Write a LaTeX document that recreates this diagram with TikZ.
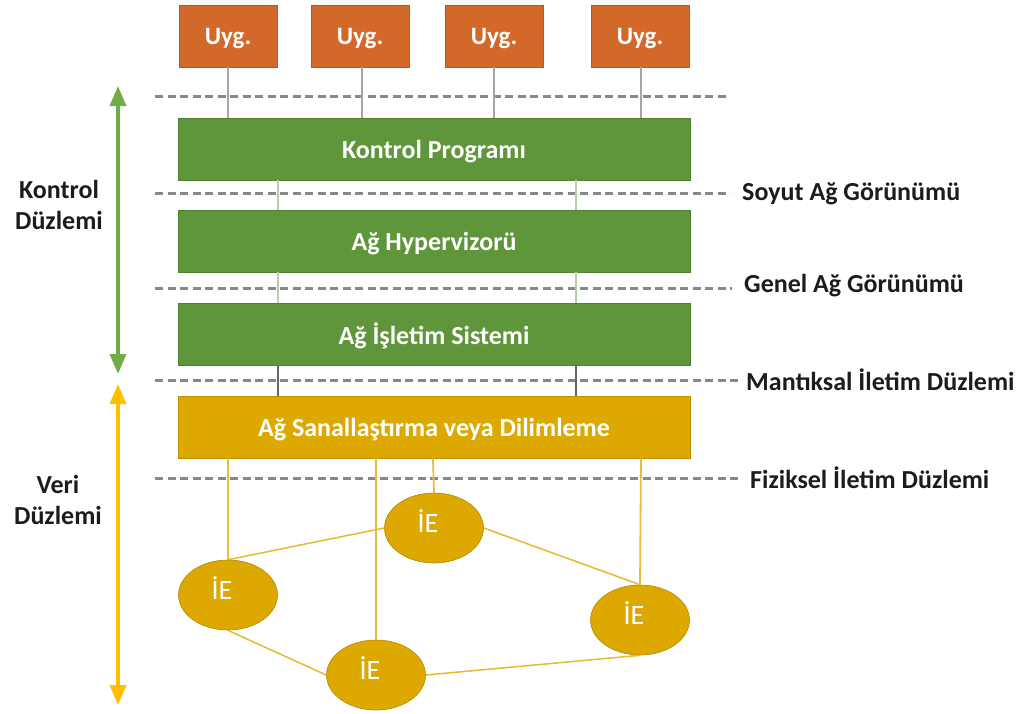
\documentclass[tikz,border=0pt]{standalone}
\usepackage{fontspec}
\setmainfont{Carlito}
\usetikzlibrary{shapes.geometric,arrows.meta}
\definecolor{appor}{HTML}{D2692B}
\definecolor{ctlgreen}{HTML}{5F963B}
\definecolor{datayel}{HTML}{DDA900}
\definecolor{arrgreen}{HTML}{70AD47}
\definecolor{arryel}{HTML}{FFC000}
\definecolor{dashgray}{HTML}{888888}
\definecolor{lblk}{HTML}{1C1C1C}
% element label, set a little up and to the left inside its ellipse
\newcommand{\elabel}[1]{\raisebox{14pt}{#1}\hspace*{12pt}}
\tikzset{
  appbox/.style={draw=appor!85!black, line width=0.6, fill=appor, minimum width=98, minimum height=62,
    text=white, font=\fontsize{25}{28}\selectfont\bfseries, inner sep=0, text depth=0pt},
  layerbox/.style={draw=#1!85!black, line width=0.6, fill=#1, minimum width=512, minimum height=62,
    text=white, font=\fontsize{26}{30}\selectfont\bfseries, inner sep=0, text depth=0pt},
  switchnode/.style={ellipse, draw=datayel!80!black, line width=0.6, fill=datayel, minimum width=99, minimum height=70,
    text=white, font=\fontsize{28}{30}\selectfont, inner sep=0},
  sepline/.style={dashgray, line width=3, dash pattern=on 8 off 4.5},
  sidelbl/.style={text=lblk, font=\fontsize{26}{30}\selectfont\bfseries, anchor=west, inner sep=0},
  planelbl/.style={text=lblk, font=\fontsize{26}{31}\selectfont\bfseries, align=center, inner sep=0},
  applink/.style={gray!70, line width=1.4},
  greenlink/.style={ctlgreen!45, line width=1.8},
  darklink/.style={gray!80!black, line width=2.2},
  yellink/.style={datayel!75, line width=1.8},
  meshlink/.style={datayel!80, line width=1.5},
  planearrow/.style={line width=3.4, {Triangle[width=16,length=20]}-{Triangle[width=16,length=20]}},
}
\begin{document}
\begin{tikzpicture}[x=1pt,y=-1pt]
\useasboundingbox (0,0) rectangle (1022,713);

% separator lines between the layers
\coordinate (d1a) at (155,96);  \coordinate (d1b) at (730,96);
\coordinate (d2a) at (155,193); \coordinate (d2b) at (730,193);
\coordinate (d3a) at (155,288); \coordinate (d3b) at (732,288);
\coordinate (d4a) at (155,380); \coordinate (d4b) at (738,380);
\coordinate (d5a) at (155,478); \coordinate (d5b) at (738,478);
\foreach \i in {1,...,5} \draw[sepline] (d\i a) -- (d\i b);

% applications
\node[appbox] (u1) at (228,36) {Uyg.};
\node[appbox] (u2) at (360,36) {Uyg.};
\node[appbox] (u3) at (494,36) {Uyg.};
\node[appbox] (u4) at (640,36) {Uyg.};

% control and data plane layers
\node[layerbox=ctlgreen] (kp) at (434,149) {Kontrol Programı};
\node[layerbox=ctlgreen] (hv) at (434,241) {Ağ Hypervizorü};
\node[layerbox=ctlgreen] (os) at (434,334) {Ağ İşletim Sistemi};
\node[layerbox=datayel] (sv) at (434,427) {Ağ Sanallaştırma veya Dilimleme};

% forwarding elements
\node[switchnode] (e1) at (434,528) {\elabel{İE}};
\node[switchnode] (e2) at (228,595) {\elabel{İE}};
\node[switchnode] (e3) at (640,620) {\elabel{İE}};
\node[switchnode] (e4) at (376,675) {\elabel{İE}};

% links between applications and the control program
\foreach \u/\x in {u1/228,u2/362,u3/494,u4/641}
  \draw[applink] (\u.south -| \x,0) -- (kp.north -| \x,0);

% links between the layers
\foreach \x in {278,576} {
  \draw[greenlink] (kp.south -| \x,0) -- (hv.north -| \x,0);
  \draw[greenlink] (hv.south -| \x,0) -- (os.north -| \x,0);
  \draw[darklink] (os.south -| \x,0) -- (sv.north -| \x,0);
}

% links from the slicing layer to the forwarding elements
\draw[yellink] (sv.south -| 228,0) -- (e2.north);
\draw[yellink] (sv.south -| 376,0) -- (e4.north);
\draw[yellink] (sv.south -| 433,0) -- (e1.north);
\draw[yellink] (sv.south -| 641,0) -- (e3.north);

% physical mesh
\draw[meshlink] (e2.north) -- (e1.west);
\draw[meshlink] (e1.east) -- (e3.north);
\draw[meshlink] (e2.south) -- (e4.west);
\draw[meshlink] (e4.east) -- (e3.south);

% plane extents
\coordinate (ga) at (118,86);  \coordinate (gb) at (118,374);
\coordinate (ya) at (118,384); \coordinate (yb) at (118,705);
\draw[planearrow, arrgreen] (ga) -- (gb);
\draw[planearrow, arryel] (ya) -- (yb);

\node[planelbl] (kd) at (59,205) {Kontrol\\Düzlemi};
\node[planelbl] (vd) at (58,500) {Veri\\Düzlemi};

% layer interface names
\node[sidelbl] (l1) at (742,194) {Soyut Ağ Görünümü};
\node[sidelbl] (l2) at (744,286) {Genel Ağ Görünümü};
\node[sidelbl] (l3) at (746,380) {Mantıksal İletim Düzlemi};
\node[sidelbl] (l4) at (750,478) {Fiziksel İletim Düzlemi};
\end{tikzpicture}
\end{document}
